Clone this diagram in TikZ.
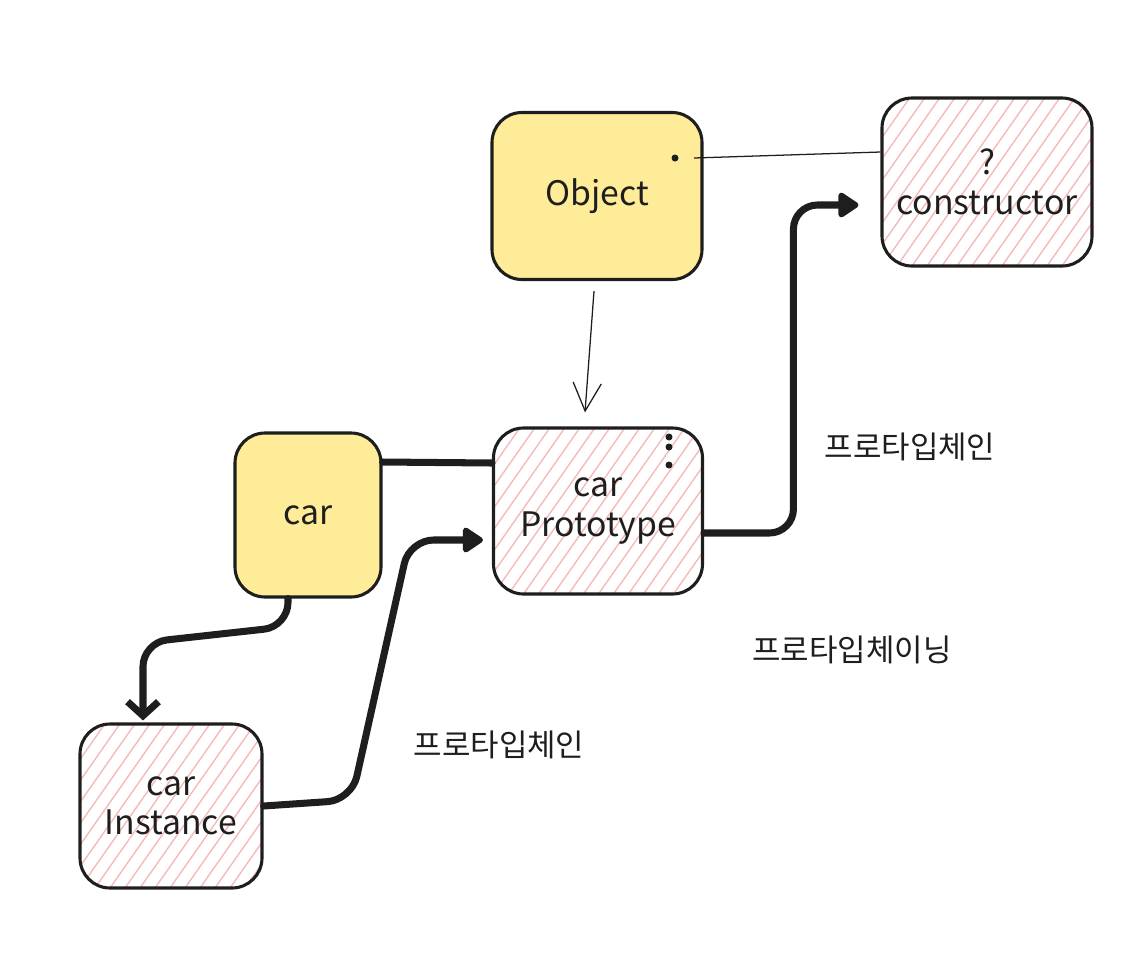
\documentclass[tikz,border=0pt]{standalone}
\usepackage{fontspec}
\setmainfont{Noto Sans CJK KR}
\usetikzlibrary{arrows.meta}
\definecolor{myyellow}{RGB}{255,236,153}
\definecolor{myink}{RGB}{30,30,30}
\definecolor{myhatch}{RGB}{245,186,186}
\newcommand\pix{0.025cm}
\tikzset{
  >=latex,
  box/.style={draw=myink,line width=2.2pt,rounded corners=0.75cm,align=center,
    text=myink,font=\fontsize{24}{28}\selectfont,inner sep=0pt},
  box plain/.style={box,fill=myyellow},
  box hatch/.style={box,path picture={%
      \foreach \k in {-26,...,18}
        \draw[myhatch,line width=1pt] ([xshift=\k*15*\pix]path picture bounding box.south west) -- ++(55:16cm);}},
  link/.style={draw=myink,line width=5pt,line cap=round},
  chain arrow/.style={link,rounded corners=0.6cm,-{Triangle[length=16pt,width=20pt,round]}},
  thin link/.style={draw=myink,line width=0.9pt},
  thin arrow/.style={thin link,-{Straight Barb[length=20pt,width=20pt]}},
  note/.style={text=myink,font=\fontsize{22}{26}\selectfont}
}

\begin{document}
\begin{tikzpicture}[x=0.025cm,y=-0.025cm]
    \useasboundingbox (0,0) rectangle (1134,976);

    % ------- boxes -------
    \node[box plain,minimum width=210*\pix,minimum height=167*\pix] (obj)   at (597,196) {Object};
    \node[box hatch,minimum width=210*\pix,minimum height=168*\pix] (ctor)  at (987,182) {?\\constructor};
    \node[box plain,minimum width=146*\pix,minimum height=164*\pix] (car)   at (308,515) {car};
    \node[box hatch,minimum width=209*\pix,minimum height=166*\pix] (proto) at (598,511) {car\\Prototype};
    \node[box hatch,minimum width=182*\pix,minimum height=164*\pix] (inst)  at (171,806) {car\\Instance};

    % ------- dots -------
    \coordinate (obj dot) at (675,158);
    \fill[myink] (obj dot) circle (3.5);
    \foreach \y in {437,447,465}
        \fill[myink] (669,\y) circle (3.5);

    % ------- connectors -------
    \draw[thin arrow] ([xshift=-3*\pix,yshift=-10*\pix]obj.south) -- ([xshift=-13*\pix,yshift=14*\pix]proto.north);
    \draw[thin link] ([xshift=19*\pix]obj dot) -- ([yshift=30*\pix]ctor.west);

    \draw[chain arrow] ([yshift=-22*\pix]proto.east) -| ([xshift=-87*\pix,yshift=-23*\pix]ctor.west)
        -- ([xshift=-22*\pix,yshift=-23*\pix]ctor.west);
    \draw[link] ([yshift=53*\pix]car.east) -- ([yshift=48*\pix]proto.west);
    \draw[chain arrow,-{Straight Barb[length=10pt,width=22pt]}] ([xshift=-20*\pix]car.south) -- ++(0,28)
        -- ++(-145,16) -- ([xshift=-28*\pix,yshift=2*\pix]inst.north);
    \draw[chain arrow] (inst.east) -- ++(88,-6) -- ++(58,-260) -- ([xshift=-9*\pix,yshift=-29*\pix]proto.west);

    % ------- labels -------
    \node[note] (chain top) at (910,447) {프로타입체인};
    \node[note] (chaining)  at (852,650) {프로타입체이닝};
    \node[note] (chain low) at (499,745) {프로타입체인};
\end{tikzpicture}
\end{document}
